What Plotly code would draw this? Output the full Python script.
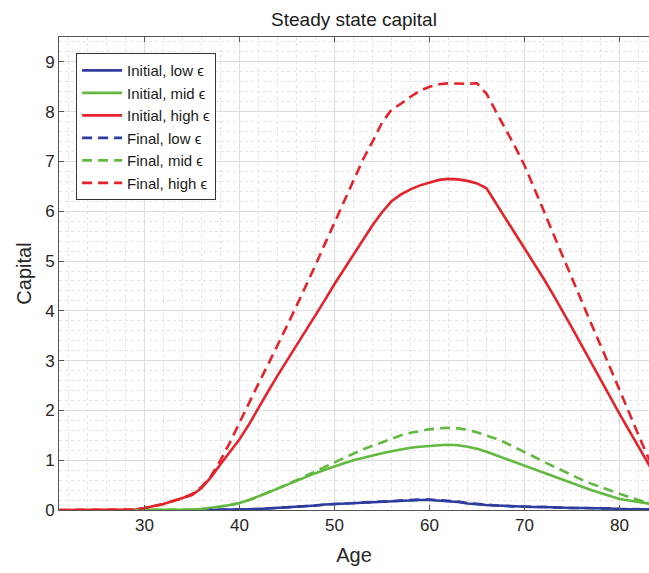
import plotly.graph_objects as go

ages = list(range(21, 86))

N = None
initial_low = [N]*15 + [0, 0, 0, 0.005, 0.01, 0.015, 0.02, 0.03, 0.04, 0.05, 0.06, 0.08, 0.09, 0.11, 0.12,
               0.13, 0.14, 0.15, 0.16, 0.17, 0.18, 0.19, 0.2, 0.2, 0.2, 0.19, 0.18, 0.16, 0.13,
               0.11, 0.1, 0.09, 0.08, 0.07, 0.07, 0.06, 0.06, 0.05, 0.05, 0.04, 0.04, 0.04,
               0.03, 0.03, 0.02, 0.02, 0.02, 0.01, 0.01, 0.01]
final_low = [N]*15 + [0, 0, 0, 0.005, 0.01, 0.015, 0.02, 0.03, 0.04, 0.05, 0.06, 0.08, 0.09, 0.11, 0.12,
             0.13, 0.14, 0.15, 0.16, 0.17, 0.19, 0.2, 0.21, 0.21, 0.21, 0.2, 0.19, 0.17, 0.14,
             0.12, 0.1, 0.09, 0.08, 0.07, 0.07, 0.06, 0.06, 0.05, 0.05, 0.04, 0.04, 0.04,
             0.03, 0.03, 0.02, 0.02, 0.02, 0.01, 0.01, 0.01]

initial_mid = [N]*8 + [0]*6 + [0.01, 0.02, 0.04, 0.07, 0.1, 0.14, 0.2, 0.27, 0.35, 0.43, 0.51, 0.59,
               0.66, 0.74, 0.81, 0.88, 0.94, 1.0, 1.05, 1.1, 1.14, 1.18, 1.22, 1.25, 1.27,
               1.29, 1.3, 1.31, 1.3, 1.27, 1.23, 1.17, 1.1, 1.03, 0.95, 0.88, 0.81, 0.74,
               0.67, 0.6, 0.53, 0.46, 0.4, 0.34, 0.28, 0.22, 0.19, 0.16, 0.13, 0.1, 0.07]
final_mid = [N]*8 + [0]*6 + [0.01, 0.02, 0.04, 0.07, 0.1, 0.14, 0.2, 0.27, 0.35, 0.43, 0.51, 0.6,
             0.69, 0.78, 0.87, 0.96, 1.05, 1.14, 1.22, 1.29, 1.36, 1.43, 1.5, 1.55, 1.59,
             1.62, 1.64, 1.65, 1.64, 1.61, 1.56, 1.5, 1.43, 1.35, 1.26, 1.17, 1.07, 0.97,
             0.88, 0.78, 0.69, 0.61, 0.53, 0.46, 0.39, 0.32, 0.26, 0.2, 0.15, 0.1, 0.06]

initial_high = [0]*8 + [0.01, 0.04, 0.08, 0.12, 0.18, 0.24, 0.3, 0.44, 0.66, 0.92, 1.16, 1.42,
                1.72, 2.06, 2.38, 2.7, 3.0, 3.3, 3.6, 3.92, 4.22, 4.54, 4.84, 5.14, 5.44,
                5.72, 5.98, 6.2, 6.34, 6.44, 6.52, 6.58, 6.63, 6.65, 6.64, 6.61, 6.56, 6.46,
                6.16, 5.87, 5.57, 5.27, 4.96, 4.65, 4.33, 4.0, 3.66, 3.31, 2.96, 2.62, 2.27,
                1.93, 1.6, 1.27, 0.93, 0.6, 0.28]
final_high = [0]*8 + [0.01, 0.04, 0.08, 0.12, 0.18, 0.24, 0.32, 0.46, 0.68, 1.0, 1.36, 1.76,
              2.14, 2.54, 2.92, 3.3, 3.7, 4.1, 4.5, 4.92, 5.35, 5.77, 6.17, 6.62, 7.04, 7.4,
              7.78, 8.04, 8.16, 8.3, 8.42, 8.5, 8.55, 8.57, 8.56, 8.56, 8.57, 8.36, 8.0,
              7.66, 7.3, 6.92, 6.48, 6.02, 5.56, 5.1, 4.65, 4.2, 3.75, 3.31, 2.87, 2.43,
              1.96, 1.5, 1.05, 0.6, 0.2]

series = [
    ("Initial, low ϵ", initial_low, "#2e3c9e", "solid"),
    ("Initial, mid ϵ", initial_mid, "#62b93f", "solid"),
    ("Initial, high ϵ", initial_high, "#e5232b", "solid"),
    ("Final, low ϵ", final_low, "#2e3c9e", "10px,6px"),
    ("Final, mid ϵ", final_mid, "#62b93f", "10px,6px"),
    ("Final, high ϵ", final_high, "#e5232b", "10px,6px"),
]

fig = go.Figure()
for name, vals, color, dash in series:
    fig.add_trace(go.Scatter(x=ages, y=vals, mode="lines", name=name,
                             line=dict(color=color, width=2.6, dash=dash)))

font_family = "Liberation Sans, Arial, sans-serif"
fig.update_layout(
    width=649, height=573,
    margin=dict(l=59, r=0, t=37, b=63),
    paper_bgcolor="white", plot_bgcolor="white",
    font=dict(family=font_family, color="#262626", size=17),
    title=dict(text="Steady state capital", x=0.5, xref="paper", xanchor="center",
               y=1, yref="container", yanchor="top", pad=dict(t=13),
               font=dict(size=19, color="#1a1a1a")),
    showlegend=True,
    legend=dict(x=0.029, y=0.966, xanchor="left", yanchor="top",
                bgcolor="white", bordercolor="#333333", borderwidth=1,
                font=dict(size=15, color="#1a1a1a"), tracegroupgap=0,
                itemwidth=40),
    xaxis=dict(range=[21, 83.1], tick0=0, dtick=10, showgrid=True, gridcolor="#dedede",
               gridwidth=1, zeroline=False, showline=True, linecolor="#555555", linewidth=1,
               mirror="ticks", ticks="inside", ticklen=5, tickcolor="#555555",
               title=dict(text="Age", font=dict(size=20), standoff=13),
               minor=dict(dtick=2, showgrid=True, gridcolor="#e4e4e4", griddash="dot",
                          gridwidth=1)),
    yaxis=dict(range=[0, 9.5], tick0=0, dtick=1, showgrid=True, gridcolor="#dedede",
               gridwidth=1, zeroline=False, showline=True, linecolor="#555555", linewidth=1,
               ticks="inside", ticklen=5, tickcolor="#555555",
               title=dict(text="Capital", font=dict(size=20), standoff=8),
               minor=dict(dtick=0.2, showgrid=True, gridcolor="#e4e4e4", griddash="dot",
                          gridwidth=1)),
)

fig.write_html("out.html", config={"displayModeBar": False},
               post_script="document.body.style.margin='0';document.body.style.overflow='hidden';")
